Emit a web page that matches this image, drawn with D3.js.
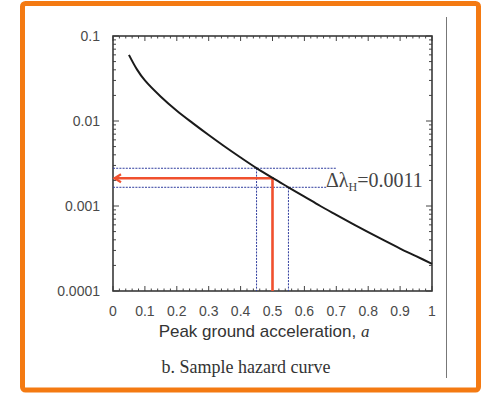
<!DOCTYPE html>
<html>
<head>
<meta charset="utf-8">
<script src="https://cdn.jsdelivr.net/npm/d3@7"></script>
<style>
  html, body { margin: 0; padding: 0; background: #fff; }
  svg { display: block; }
</style>
</head>
<body>
<svg width="481" height="393"></svg>
<script>
// hazard curve: annual exceedance rate vs PGA
const pga = [0.05, 0.075, 0.1, 0.15, 0.2, 0.25, 0.3, 0.35, 0.4, 0.45, 0.5, 0.55, 0.6, 0.65, 0.7, 0.75, 0.8, 0.85, 0.9, 0.95, 1.0];
const rate = [0.0600, 0.0405, 0.0300, 0.0193, 0.0132, 0.00944, 0.00684, 0.00501, 0.00372, 0.00279, 0.00214,
    0.00166, 0.00129, 0.00100, 0.000787, 0.000621, 0.000492, 0.000393, 0.000316, 0.000257, 0.000209];

const xTicks = [0, 0.1, 0.2, 0.3, 0.4, 0.5, 0.6, 0.7, 0.8, 0.9, 1];
const yTicks = [0.0001, 0.001, 0.01, 0.1];
const yTickLabels = ["0.0001", "0.001", "0.01", "0.1"];

// the interval used for the delta-lambda read
const aLow = 0.45, aMid = 0.5, aHigh = 0.55;
const rLow = 0.00278, rMid = 0.00212, rHigh = 0.00166;
const deltaLabel = "0.0011";

const svg = d3.select("svg");

const x = d3.scaleLinear().domain([0, 1]).range([113, 432]);
const y = d3.scaleLog().domain([0.0001, 0.1]).range([291, 36]);

// orange frame round the figure
svg.append("rect")
    .attr("x", 22.5).attr("y", 3.5)
    .attr("width", 456).attr("height", 386.5)
    .attr("rx", 3)
    .attr("fill", "none")
    .attr("stroke", "#f47a12")
    .attr("stroke-width", 5);

// thin grey line on the right
svg.append("line")
    .attr("x1", 446.5).attr("x2", 446.5)
    .attr("y1", 17).attr("y2", 378)
    .attr("stroke", "#777")
    .attr("stroke-width", 1);

const frame = svg.append("g");

// minor + major ticks, drawn inward on all four sides
const xMinor = d3.range(0, 1.0001, 0.02).filter(v => Math.abs(v * 10 - Math.round(v * 10)) > 1e-6);
const yMinor = [];
yTicks.slice(0, -1).forEach(d => { for (let k = 2; k < 10; k++) yMinor.push(d * k); });

const tickG = frame.append("g").attr("stroke", "#444").attr("stroke-width", 1);
function xTick(v, len) {
    tickG.append("line").attr("x1", x(v)).attr("x2", x(v)).attr("y1", y.range()[0]).attr("y2", y.range()[0] - len);
    tickG.append("line").attr("x1", x(v)).attr("x2", x(v)).attr("y1", y.range()[1]).attr("y2", y.range()[1] + len);
}
function yTick(v, len) {
    tickG.append("line").attr("y1", y(v)).attr("y2", y(v)).attr("x1", x.range()[0]).attr("x2", x.range()[0] + len);
    tickG.append("line").attr("y1", y(v)).attr("y2", y(v)).attr("x1", x.range()[1]).attr("x2", x.range()[1] - len);
}
xTicks.forEach(v => xTick(v, 5));
xMinor.forEach(v => xTick(v, 2.5));
yTicks.forEach(v => yTick(v, 6));
yMinor.forEach(v => yTick(v, 3));

frame.append("rect")
    .attr("x", x.range()[0]).attr("y", y.range()[1])
    .attr("width", x.range()[1] - x.range()[0])
    .attr("height", y.range()[0] - y.range()[1])
    .attr("fill", "none")
    .attr("stroke", "#3a3a3a")
    .attr("stroke-width", 1.6);

// tick labels
const labelFont = "'Liberation Sans', Arial, sans-serif";
svg.append("g").selectAll("text")
    .data(xTicks)
    .join("text")
    .attr("x", d => x(d))
    .attr("y", 316)
    .attr("text-anchor", "middle")
    .attr("font-family", labelFont)
    .attr("font-size", 14)
    .attr("fill", "#4a4a4a")
    .text(d => d3.format("")(d));

svg.append("g").selectAll("text")
    .data(yTicks)
    .join("text")
    .attr("x", 100)
    .attr("y", d => y(d) + 5)
    .attr("text-anchor", "end")
    .attr("font-family", labelFont)
    .attr("font-size", 14)
    .attr("fill", "#4a4a4a")
    .text((d, i) => yTickLabels[i]);

// axis title
const title = svg.append("text")
    .attr("x", 264)
    .attr("y", 336.5)
    .attr("text-anchor", "middle")
    .attr("font-family", labelFont)
    .attr("font-size", 17)
    .attr("fill", "#333");
title.append("tspan").text("Peak ground acceleration, ");
title.append("tspan")
    .attr("font-family", "'Liberation Serif', 'Times New Roman', serif")
    .attr("font-style", "italic")
    .text("a");

svg.append("text")
    .attr("x", 246)
    .attr("y", 373)
    .attr("text-anchor", "middle")
    .attr("font-family", "'Liberation Serif', 'Times New Roman', serif")
    .attr("font-size", 18)
    .attr("fill", "#333")
    .text("b. Sample hazard curve");

// blue dashed guides
const blue = "#2f3c9e";
const guides = svg.append("g")
    .attr("stroke", blue)
    .attr("stroke-width", 1)
    .attr("stroke-dasharray", "2,1.2")
    .attr("fill", "none");
guides.append("line").attr("x1", x(0)).attr("x2", x(0.70)).attr("y1", y(rLow)).attr("y2", y(rLow));
guides.append("line").attr("x1", x(0)).attr("x2", x(0.672)).attr("y1", y(rHigh)).attr("y2", y(rHigh));
guides.append("line").attr("x1", x(aLow)).attr("x2", x(aLow)).attr("y1", y(rLow)).attr("y2", y(0.0001));
guides.append("line").attr("x1", x(aHigh)).attr("x2", x(aHigh)).attr("y1", y(rHigh)).attr("y2", y(0.0001));

// red read-off with arrow
const red = "#f0502e";
svg.append("path")
    .attr("d", `M${x(aMid)},${y(0.0001)}V${y(rMid)}H${x(0) + 1.5}`)
    .attr("fill", "none")
    .attr("stroke", red)
    .attr("stroke-width", 2.6);
svg.append("path")
    .attr("d", `M${x(0) + 8},${y(rMid) - 4}L${x(0) + 1.5},${y(rMid)}L${x(0) + 8},${y(rMid) + 4}`)
    .attr("fill", "none")
    .attr("stroke", red)
    .attr("stroke-width", 2.2);

// hazard curve
svg.append("path")
    .datum(pga.map((d, i) => [d, rate[i]]))
    .attr("d", d3.line().x(d => x(d[0])).y(d => y(d[1])).curve(d3.curveCatmullRom.alpha(0.5)))
    .attr("fill", "none")
    .attr("stroke", "#1a1a1a")
    .attr("stroke-width", 2);

// delta lambda label
const dl = svg.append("text")
    .attr("x", 326)
    .attr("y", 187)
    .attr("font-family", "'Liberation Serif', 'Times New Roman', serif")
    .attr("font-size", 20)
    .attr("fill", "#444");
dl.append("tspan").text("\u0394\u03bb");
dl.append("tspan").attr("font-size", 12).attr("dy", 4).text("H");
dl.append("tspan").attr("dy", -4).text("=" + deltaLabel);
</script>
</body>
</html>
